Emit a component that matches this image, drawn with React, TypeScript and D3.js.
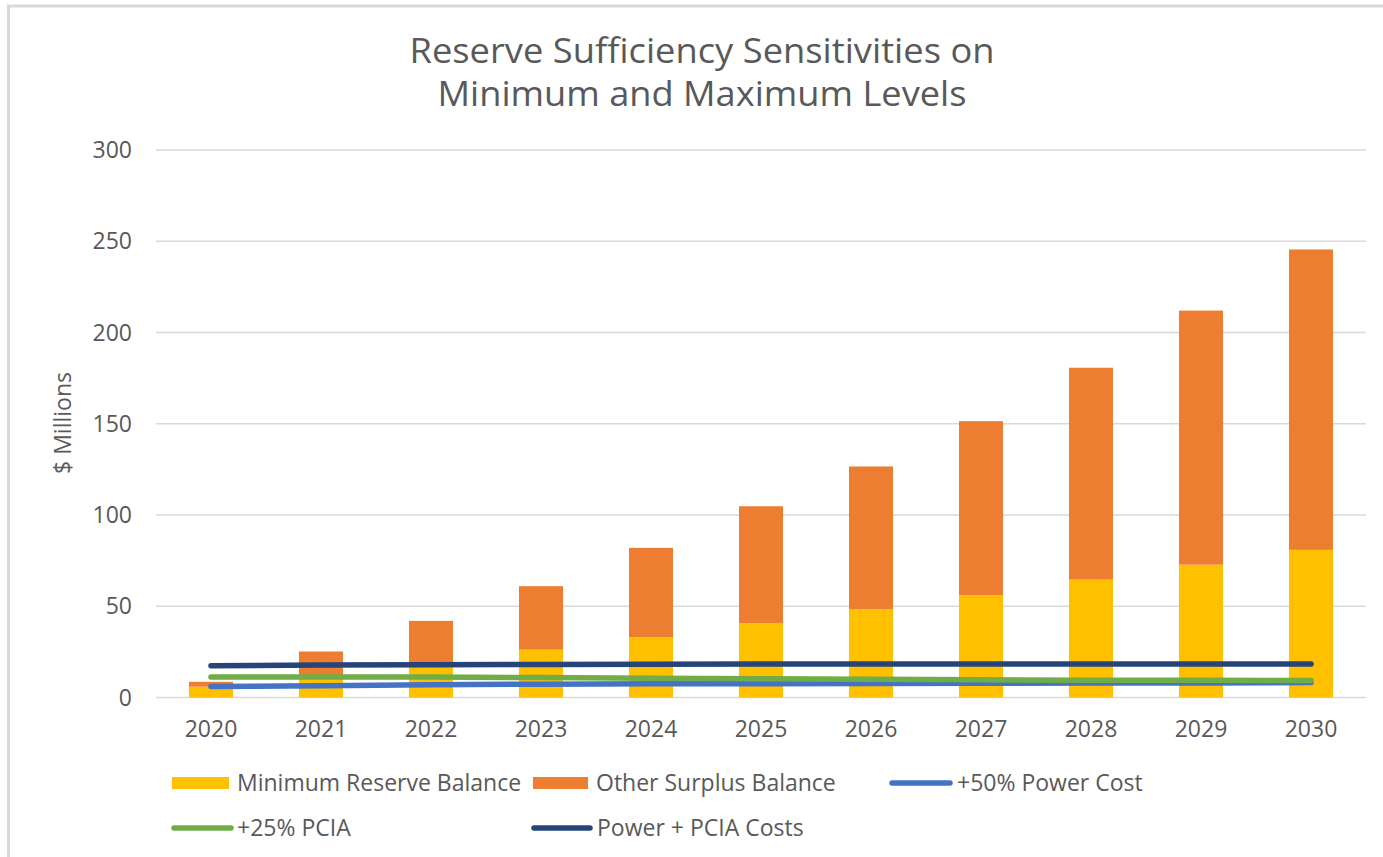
import React, { useEffect } from 'react';
import * as d3 from 'd3';

const years = ['2020', '2021', '2022', '2023', '2024', '2025', '2026', '2027', '2028', '2029', '2030'];
const minReserve = [5.9, 12, 18.5, 26.2, 33.1, 40.8, 48.5, 56.1, 64.6, 72.8, 80.9];
const otherSurplus = [2.7, 13.2, 23.5, 34.8, 48.9, 64.0, 78.1, 95.3, 116.1, 139.2, 164.6];
const powerCost50 = [6.0, 6.4, 7.0, 7.3, 7.5, 7.6, 7.7, 7.8, 7.9, 8.0, 8.2];
const pcia25 = [11.2, 11.3, 11.2, 10.9, 10.6, 10.3, 10.0, 9.7, 9.5, 9.4, 9.3];
const powerPcia = [17.4, 17.8, 18.0, 18.1, 18.2, 18.3, 18.4, 18.4, 18.4, 18.4, 18.4];
const yTicks = [0, 50, 100, 150, 200, 250, 300];

const W = 1383;
const H = 857;
const FONT = '"Open Sans", sans-serif';
const TEXT = '#595959';
const GRID = '#d9d9d9';

const colors = {
  min: '#FFC000',
  other: '#ED7D31',
  power: '#4472C4',
  pcia: '#70AD47',
  both: '#264478',
};

export default function App() {
  useEffect(() => {
    document.body.style.margin = '0';
  }, []);

  const x = d3.scaleBand<string>().domain(years).range([156, 1366]).paddingInner(0.6).paddingOuter(0.3);
  const y = d3.scaleLinear().domain([0, 300]).range([697.5, 150]);
  const bw = x.bandwidth();
  const cx = (yr: string) => (x(yr) ?? 0) + bw / 2;

  const line = d3.line<number>()
    .x((_, i) => cx(years[i]))
    .y(d => y(d))
    .curve(d3.curveLinear);

  const lines = [
    { key: 'power', data: powerCost50, color: colors.power },
    { key: 'pcia', data: pcia25, color: colors.pcia },
    { key: 'both', data: powerPcia, color: colors.both },
  ];

  return (
    <svg width={W} height={H} style={{ display: 'block', background: '#fff' }} fontFamily={FONT}>
      {/* frame */}
      <line x1={8.5} y1={5} x2={8.5} y2={H} stroke={GRID} strokeWidth={3} />
      <line x1={7} y1={6} x2={W} y2={6} stroke={GRID} strokeWidth={3} />

      {/* title */}
      <text x={702} y={63} textAnchor="middle" fontSize={34} fill={TEXT}
        textLength={585} lengthAdjust="spacingAndGlyphs">Reserve Sufficiency Sensitivities on</text>
      <text x={702} y={106} textAnchor="middle" fontSize={34} fill={TEXT}
        textLength={529} lengthAdjust="spacingAndGlyphs">Minimum and Maximum Levels</text>

      {/* grid + y labels */}
      {yTicks.map(t => (
        <g key={t}>
          <line x1={156} x2={1366} y1={y(t)} y2={y(t)} stroke={GRID} strokeWidth={1.6} />
          <text x={132} y={y(t)} dy="0.35em" textAnchor="end" fontSize={23} fill={TEXT}>{t}</text>
        </g>
      ))}

      <text transform="translate(71,423) rotate(-90)" textAnchor="middle" fontSize={23} fill={TEXT}>$ Millions</text>

      {/* stacked bars */}
      {years.map((yr, i) => (
        <g key={yr}>
          <rect x={x(yr)} width={bw} y={y(minReserve[i])} height={y(0) - y(minReserve[i])} fill={colors.min} />
          <rect x={x(yr)} width={bw} y={y(minReserve[i] + otherSurplus[i])}
            height={y(minReserve[i]) - y(minReserve[i] + otherSurplus[i])} fill={colors.other} />
        </g>
      ))}

      {/* lines */}
      {lines.map(l => (
        <path key={l.key} d={line(l.data) ?? ''} fill="none" stroke={l.color} strokeWidth={5.5} strokeLinecap="round" />
      ))}

      {/* x labels */}
      {years.map(yr => (
        <text key={yr} x={cx(yr)} y={729} dy="0.35em" textAnchor="middle" fontSize={23} fill={TEXT}>{yr}</text>
      ))}

      {/* legend */}
      <g fontSize={23} fill={TEXT}>
        <rect x={172} y={777} width={57} height={12} fill={colors.min} />
        <text x={237} y={783} dy="0.35em">Minimum Reserve Balance</text>
        <rect x={533} y={777} width={55} height={12} fill={colors.other} />
        <text x={596} y={783} dy="0.35em">Other Surplus Balance</text>
        <line x1={892} x2={950} y1={783} y2={783} stroke={colors.power} strokeWidth={5.5} strokeLinecap="round" />
        <text x={957} y={783} dy="0.35em">+50% Power Cost</text>

        <line x1={174} x2={231} y1={828} y2={828} stroke={colors.pcia} strokeWidth={5.5} strokeLinecap="round" />
        <text x={237} y={828} dy="0.35em">+25% PCIA</text>
        <line x1={534} x2={590} y1={828} y2={828} stroke={colors.both} strokeWidth={5.5} strokeLinecap="round" />
        <text x={597} y={828} dy="0.35em">Power + PCIA Costs</text>
      </g>
    </svg>
  );
}
